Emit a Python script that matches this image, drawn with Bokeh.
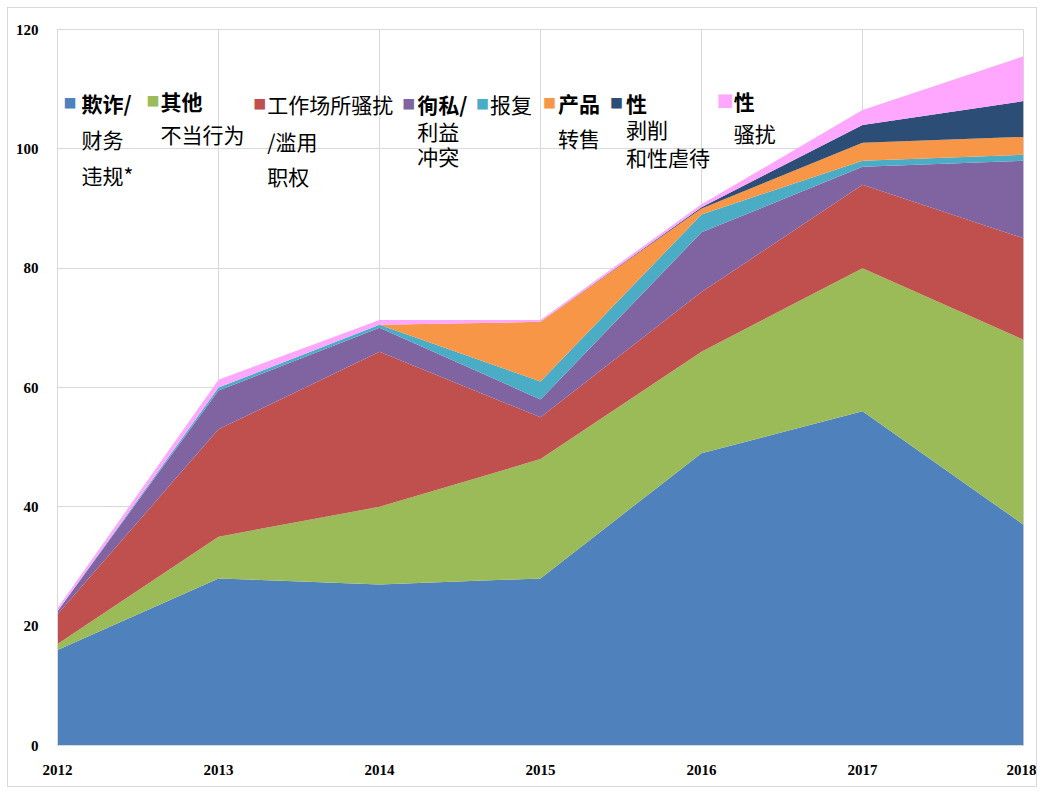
from bokeh.plotting import figure
from bokeh.models import ColumnDataSource, Label, FixedTicker, Range1d
from bokeh.embed import file_html
from bokeh.resources import INLINE

years = [2012, 2013, 2014, 2015, 2016, 2017, 2018]
fraud = [16, 28, 27, 28, 49, 56, 37]
other = [1, 7, 13, 20, 17, 24, 31]
workplace = [5, 18, 26, 7, 10, 14, 17]
conflict = [0.5, 6.5, 4, 3, 10, 3, 13]
retaliation = [0, 0.5, 0.5, 3, 3, 1, 1]
resale = [0, 0, 0, 10, 1, 3, 3]
exploitation = [0, 0, 0, 0, 0.2, 3, 6]
harassment = [0.5, 1.3, 0.8, 0.3, 0.5, 2.5, 7.5]

series = ["fraud", "other", "workplace", "conflict", "retaliation", "resale", "exploitation", "harassment"]
colors = ["#4F81BD", "#9BBB59", "#C0504D", "#8064A2", "#4BACC6", "#F79646", "#2C4D75", "#FFA6FF"]
legend_lines = [
    ["欺诈/", "财务", "违规*"],
    ["其他", "不当行为"],
    ["工作场所骚扰", "/滥用", "职权"],
    ["徇私/", "利益", "冲突"],
    ["报复"],
    ["产品", "转售"],
    ["性", "剥削", "和性虐待"],
    ["性", "骚扰"],
]
first_bold = [True, True, False, True, False, True, True, True]
y_ticks = [0, 20, 40, 60, 80, 100, 120]

source = ColumnDataSource(dict(year=years, fraud=fraud, other=other, workplace=workplace,
                               conflict=conflict, retaliation=retaliation, resale=resale,
                               exploitation=exploitation, harassment=harassment))

W, H = 1030, 780
L, R, T, B = 49, 15, 21, 43

p = figure(width=W, height=H, output_backend="svg", toolbar_location=None,
           x_range=Range1d(2012, 2018), y_range=Range1d(0, 120),
           min_border_left=L, min_border_right=R, min_border_top=T, min_border_bottom=B)
p.styles = {"border": "1px solid #D9D9D9", "margin-left": "7px", "margin-top": "7px"}
p.varea_stack(stackers=series, x="year", color=colors, source=source)

p.xaxis.ticker = FixedTicker(ticks=years)
p.yaxis.ticker = FixedTicker(ticks=y_ticks)
for ax in (p.xaxis[0], p.yaxis[0]):
    ax.major_tick_line_color = None
    ax.minor_tick_line_color = None
    ax.axis_line_color = "#D9D9D9"
    ax.major_label_text_font = "Liberation Serif"
    ax.major_label_text_font_style = "bold"
    ax.major_label_text_font_size = "15px"
    ax.major_label_text_color = "#000000"
p.xaxis.major_label_standoff = 13
p.yaxis.major_label_standoff = 13
p.xgrid.grid_line_color = "#D9D9D9"
p.ygrid.grid_line_color = "#D9D9D9"
p.outline_line_color = "#D9D9D9"

# page-pixel to data helper for legend layout (frame spans these page pixels)
fx0, fx1 = 57, 1024
fy0, fy1 = 30, 746
def dx(px):
    return 2012 + (px - fx0) / (fx1 - fx0) * 6
def dy(py):
    return (fy1 - py) / (fy1 - fy0) * 120

# legend layout: square x, text x, line ys
layout = [
    (63, 81, [103, 139, 175]),
    (146, 160, [101, 134]),
    (253, 267, [104, 141, 176]),
    (402, 417, [104, 131, 156]),
    (476, 490, [104]),
    (543, 558, [103, 138]),
    (610, 626, [103, 129, 157]),
    (717, 734, [101, 133]),
]
for i, (sx, tx, ys) in enumerate(layout):
    sz = "17px" if i == 7 else "13px"
    p.add_layout(Label(x=dx(sx), y=dy(ys[0]), text="■", text_color=colors[i],
                       text_font="Noto Sans CJK SC", text_font_size=sz, text_baseline="middle"))
    for j, line in enumerate(legend_lines[i]):
        bold = (j == 0 and first_bold[i])
        p.add_layout(Label(x=dx(tx), y=dy(ys[j]), text=line, text_color="#000000",
                           text_font="Noto Sans CJK SC", text_font_size="21px",
                           text_font_style="bold" if bold else "normal",
                           text_baseline="middle"))

open("out.html", "w").write(file_html(p, INLINE))
